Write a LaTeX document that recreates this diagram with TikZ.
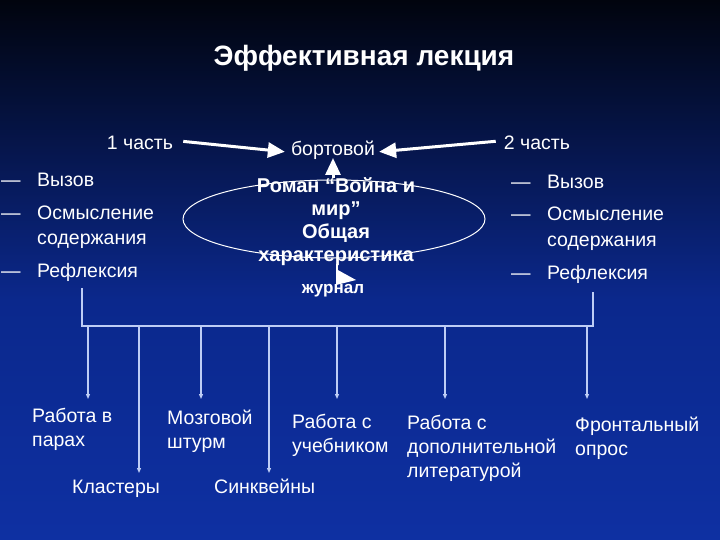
\documentclass[tikz,border=0pt]{standalone}
\usepackage{fontspec}
\setmainfont{Liberation Sans}
\usetikzlibrary{arrows.meta,shapes.geometric}
\definecolor{bgtop}{RGB}{1,4,14}
\definecolor{bgmid}{RGB}{11,40,140}
\definecolor{bgbot}{RGB}{14,48,162}
\definecolor{linec}{RGB}{190,205,245}
\begin{document}
\begin{tikzpicture}[x=1pt,y=-1pt,
  txt/.style={text=white, font=\fontsize{19.5}{24}\selectfont, inner sep=0pt, align=left},
  btxt/.style={text=white, font=\fontsize{20}{23}\bfseries\selectfont, inner sep=0pt, align=center},
  bigarrow/.style={draw=white, line width=3pt, -{Triangle[length=17pt,width=15pt]}},
  downarrow/.style={draw=linec, line width=1.1pt, -{Triangle[length=5pt,width=4pt]}},
  busline/.style={draw=linec, line width=1.1pt}]
\useasboundingbox (0,0) rectangle (720,540);
\shade[top color=bgtop, bottom color=bgmid] (0,0) rectangle (720,300);
\shade[top color=bgmid, bottom color=bgbot] (0,300) rectangle (720,540);

% title
\node[text=white, font=\fontsize{28}{32}\bfseries\selectfont] (title) at (364,58) {Эффективная лекция};

% top row
\node[txt, anchor=base] (p1) at (140,150) {1 часть};
\node[txt, anchor=base] (p2) at (537,150) {2 часть};
\node[txt, anchor=base] (bort) at (333,156) {бортовой};

% ellipse and its text
\node[draw=white, line width=1pt, ellipse, minimum width=302pt, minimum height=78pt, inner sep=0pt] (ell) at (334,219) {};
\node[btxt] (roman) at (336,222) {Роман “Война и\\мир”\\Общая\\характеристика};
\node[text=white, font=\fontsize{17}{20}\bfseries\selectfont, inner sep=0pt] (jour) at (333,291) {журнал};

% arrows to бортовой
\draw[bigarrow] ([xshift=10pt,yshift=2pt]p1.east) -- ([xshift=-6pt,yshift=-1pt]bort.west);
\draw[bigarrow] ([xshift=-8pt,yshift=2pt]p2.west) -- ([xshift=4pt,yshift=-1pt]bort.east);
\coordinate (upstart) at (333,178);
\draw[bigarrow] (upstart) -- (333,158);

% journal arrow mark
\coordinate (jtop) at (337,264);
\coordinate (jbot) at (337,283);
\draw[white, line width=2pt] (jtop) -- (jbot);
\fill[white] (336,269) -- (356,280) -- (336,285) -- cycle;

% left list
\node[txt, anchor=base west] (ld1) at (1,187) {—};
\node[txt, anchor=base west] (l1) at (37,187) {Вызов};
\node[txt, anchor=base west] (ld2) at (1,219) {—};
\node[txt, anchor=base west] (l2) at (37,244) {Осмысление\\[1pt]содержания};
\node[txt, anchor=base west] (ld3) at (1,277) {—};
\node[txt, anchor=base west] (l3) at (37,277) {Рефлексия};

% right list
\node[txt, anchor=base west] (rd1) at (511,189) {—};
\node[txt, anchor=base west] (r1) at (547,189) {Вызов};
\node[txt, anchor=base west] (rd2) at (511,221) {—};
\node[txt, anchor=base west] (r2) at (547,246) {Осмысление\\[1pt]содержания};
\node[txt, anchor=base west] (rd3) at (511,279) {—};
\node[txt, anchor=base west] (r3) at (547,279) {Рефлексия};

% bus
\coordinate (bl) at (82,288);
\coordinate (br) at (593,292);
\draw[busline] (bl) -- (82,326) -- (593,326) -- (br);

% method labels (base = baseline of last line)
\node[txt, anchor=base west] (m1) at (32,446) {Работа в\\парах};
\node[txt, anchor=base west] (m2) at (72,493) {Кластеры};
\node[txt, anchor=base west] (m3) at (167,448) {Мозговой\\штурм};
\node[txt, anchor=base west] (m4) at (214,493) {Синквейны};
\node[txt, anchor=base west] (m5) at (292,452) {Работа с\\учебником};
\node[txt, anchor=base west] (m6) at (407,477) {Работа с\\дополнительной\\литературой};
\node[txt, anchor=base west] (m7) at (575,455) {Фронтальный\\опрос};

% down arrows
\foreach \x/\y/\n in {88/399/a1,139/473/a2,201/399/a3,269/473/a4,337/399/a5,445/399/a6,587/399/a7}{
  \coordinate (s\n) at (\x,326);
  \coordinate (t\n) at (\x,\y);
  \draw[downarrow] (s\n) -- (t\n);
}
\end{tikzpicture}
\end{document}
